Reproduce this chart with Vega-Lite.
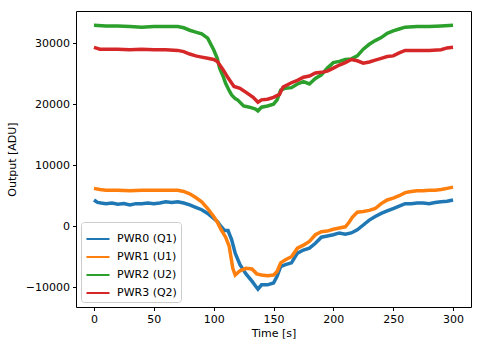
{
  "$schema": "https://vega.github.io/schema/vega-lite/v6.json",
  "width": 395,
  "height": 296,
  "autosize": {"type": "none"},
  "padding": {"left": 76, "top": 11, "right": 11, "bottom": 40},
  "background": "white",
  "config": {
    "font": "DejaVu Sans",
    "view": {"stroke": "#000", "strokeWidth": 1},
    "axis": {"grid": false, "domain": false, "tickColor": "#000", "tickSize": 3.5, "labelColor": "#000", "labelFontSize": 11, "titleFontSize": 11, "titleFontWeight": "normal", "titleColor": "#000", "labelFont": "DejaVu Sans", "titleFont": "DejaVu Sans", "labelPadding": 3}
  },
  "datasets": {
    "d": [
      {"s":"PWR0 (Q1)","t":0,"v":4300},{"s":"PWR0 (Q1)","t":3,"v":3900},{"s":"PWR0 (Q1)","t":6,"v":3800},{"s":"PWR0 (Q1)","t":10,"v":3700},{"s":"PWR0 (Q1)","t":15,"v":3800},{"s":"PWR0 (Q1)","t":20,"v":3600},{"s":"PWR0 (Q1)","t":25,"v":3700},{"s":"PWR0 (Q1)","t":30,"v":3500},{"s":"PWR0 (Q1)","t":35,"v":3700},{"s":"PWR0 (Q1)","t":40,"v":3700},{"s":"PWR0 (Q1)","t":45,"v":3800},{"s":"PWR0 (Q1)","t":50,"v":3700},{"s":"PWR0 (Q1)","t":55,"v":3800},{"s":"PWR0 (Q1)","t":60,"v":4000},{"s":"PWR0 (Q1)","t":65,"v":3900},{"s":"PWR0 (Q1)","t":70,"v":4000},{"s":"PWR0 (Q1)","t":75,"v":3800},{"s":"PWR0 (Q1)","t":80,"v":3500},{"s":"PWR0 (Q1)","t":85,"v":3100},{"s":"PWR0 (Q1)","t":90,"v":2700},{"s":"PWR0 (Q1)","t":95,"v":2100},{"s":"PWR0 (Q1)","t":100,"v":1300},{"s":"PWR0 (Q1)","t":103,"v":800},{"s":"PWR0 (Q1)","t":106,"v":0},{"s":"PWR0 (Q1)","t":109,"v":-700},{"s":"PWR0 (Q1)","t":112,"v":-700},{"s":"PWR0 (Q1)","t":115,"v":-2200},{"s":"PWR0 (Q1)","t":118,"v":-4400},{"s":"PWR0 (Q1)","t":122,"v":-6300},{"s":"PWR0 (Q1)","t":127,"v":-7800},{"s":"PWR0 (Q1)","t":132,"v":-9000},{"s":"PWR0 (Q1)","t":135,"v":-9800},{"s":"PWR0 (Q1)","t":137,"v":-10300},{"s":"PWR0 (Q1)","t":140,"v":-9600},{"s":"PWR0 (Q1)","t":145,"v":-9600},{"s":"PWR0 (Q1)","t":150,"v":-9300},{"s":"PWR0 (Q1)","t":153,"v":-8200},{"s":"PWR0 (Q1)","t":156,"v":-6600},{"s":"PWR0 (Q1)","t":160,"v":-6300},{"s":"PWR0 (Q1)","t":165,"v":-6000},{"s":"PWR0 (Q1)","t":170,"v":-4400},{"s":"PWR0 (Q1)","t":175,"v":-3900},{"s":"PWR0 (Q1)","t":180,"v":-3600},{"s":"PWR0 (Q1)","t":185,"v":-2800},{"s":"PWR0 (Q1)","t":190,"v":-1800},{"s":"PWR0 (Q1)","t":195,"v":-1600},{"s":"PWR0 (Q1)","t":200,"v":-1400},{"s":"PWR0 (Q1)","t":205,"v":-1100},{"s":"PWR0 (Q1)","t":210,"v":-1300},{"s":"PWR0 (Q1)","t":215,"v":-1100},{"s":"PWR0 (Q1)","t":220,"v":-600},{"s":"PWR0 (Q1)","t":225,"v":200},{"s":"PWR0 (Q1)","t":230,"v":1000},{"s":"PWR0 (Q1)","t":235,"v":1600},{"s":"PWR0 (Q1)","t":240,"v":2100},{"s":"PWR0 (Q1)","t":245,"v":2500},{"s":"PWR0 (Q1)","t":250,"v":2900},{"s":"PWR0 (Q1)","t":255,"v":3300},{"s":"PWR0 (Q1)","t":260,"v":3700},{"s":"PWR0 (Q1)","t":265,"v":3700},{"s":"PWR0 (Q1)","t":270,"v":3800},{"s":"PWR0 (Q1)","t":275,"v":3800},{"s":"PWR0 (Q1)","t":280,"v":3700},{"s":"PWR0 (Q1)","t":285,"v":3900},{"s":"PWR0 (Q1)","t":290,"v":4000},{"s":"PWR0 (Q1)","t":295,"v":4100},{"s":"PWR0 (Q1)","t":300,"v":4300},

      {"s":"PWR1 (U1)","t":0,"v":6200},{"s":"PWR1 (U1)","t":5,"v":6000},{"s":"PWR1 (U1)","t":10,"v":5900},{"s":"PWR1 (U1)","t":20,"v":5900},{"s":"PWR1 (U1)","t":30,"v":5800},{"s":"PWR1 (U1)","t":40,"v":5900},{"s":"PWR1 (U1)","t":50,"v":5900},{"s":"PWR1 (U1)","t":60,"v":5900},{"s":"PWR1 (U1)","t":70,"v":5900},{"s":"PWR1 (U1)","t":75,"v":5700},{"s":"PWR1 (U1)","t":80,"v":5300},{"s":"PWR1 (U1)","t":85,"v":4700},{"s":"PWR1 (U1)","t":90,"v":4000},{"s":"PWR1 (U1)","t":95,"v":2900},{"s":"PWR1 (U1)","t":100,"v":1600},{"s":"PWR1 (U1)","t":103,"v":700},{"s":"PWR1 (U1)","t":106,"v":-500},{"s":"PWR1 (U1)","t":110,"v":-1800},{"s":"PWR1 (U1)","t":113,"v":-3300},{"s":"PWR1 (U1)","t":116,"v":-6900},{"s":"PWR1 (U1)","t":118,"v":-8000},{"s":"PWR1 (U1)","t":122,"v":-7300},{"s":"PWR1 (U1)","t":127,"v":-6900},{"s":"PWR1 (U1)","t":132,"v":-7000},{"s":"PWR1 (U1)","t":136,"v":-7800},{"s":"PWR1 (U1)","t":140,"v":-8000},{"s":"PWR1 (U1)","t":145,"v":-8100},{"s":"PWR1 (U1)","t":150,"v":-8000},{"s":"PWR1 (U1)","t":153,"v":-7400},{"s":"PWR1 (U1)","t":156,"v":-6000},{"s":"PWR1 (U1)","t":160,"v":-5500},{"s":"PWR1 (U1)","t":165,"v":-5000},{"s":"PWR1 (U1)","t":170,"v":-3600},{"s":"PWR1 (U1)","t":175,"v":-3100},{"s":"PWR1 (U1)","t":180,"v":-2500},{"s":"PWR1 (U1)","t":185,"v":-1400},{"s":"PWR1 (U1)","t":190,"v":-900},{"s":"PWR1 (U1)","t":195,"v":-800},{"s":"PWR1 (U1)","t":200,"v":-500},{"s":"PWR1 (U1)","t":205,"v":-300},{"s":"PWR1 (U1)","t":210,"v":-100},{"s":"PWR1 (U1)","t":213,"v":600},{"s":"PWR1 (U1)","t":216,"v":1500},{"s":"PWR1 (U1)","t":220,"v":2300},{"s":"PWR1 (U1)","t":225,"v":2400},{"s":"PWR1 (U1)","t":230,"v":2600},{"s":"PWR1 (U1)","t":235,"v":2900},{"s":"PWR1 (U1)","t":240,"v":3700},{"s":"PWR1 (U1)","t":245,"v":4300},{"s":"PWR1 (U1)","t":250,"v":4600},{"s":"PWR1 (U1)","t":255,"v":5000},{"s":"PWR1 (U1)","t":260,"v":5500},{"s":"PWR1 (U1)","t":265,"v":5700},{"s":"PWR1 (U1)","t":270,"v":5800},{"s":"PWR1 (U1)","t":275,"v":5800},{"s":"PWR1 (U1)","t":280,"v":5900},{"s":"PWR1 (U1)","t":285,"v":5900},{"s":"PWR1 (U1)","t":290,"v":6000},{"s":"PWR1 (U1)","t":295,"v":6200},{"s":"PWR1 (U1)","t":300,"v":6400},

      {"s":"PWR2 (U2)","t":0,"v":32900},{"s":"PWR2 (U2)","t":10,"v":32800},{"s":"PWR2 (U2)","t":20,"v":32800},{"s":"PWR2 (U2)","t":30,"v":32700},{"s":"PWR2 (U2)","t":40,"v":32600},{"s":"PWR2 (U2)","t":50,"v":32700},{"s":"PWR2 (U2)","t":60,"v":32700},{"s":"PWR2 (U2)","t":70,"v":32700},{"s":"PWR2 (U2)","t":75,"v":32500},{"s":"PWR2 (U2)","t":80,"v":32100},{"s":"PWR2 (U2)","t":85,"v":31800},{"s":"PWR2 (U2)","t":90,"v":31500},{"s":"PWR2 (U2)","t":95,"v":30800},{"s":"PWR2 (U2)","t":100,"v":28900},{"s":"PWR2 (U2)","t":103,"v":27500},{"s":"PWR2 (U2)","t":105,"v":25900},{"s":"PWR2 (U2)","t":108,"v":24500},{"s":"PWR2 (U2)","t":110,"v":23400},{"s":"PWR2 (U2)","t":113,"v":22200},{"s":"PWR2 (U2)","t":115,"v":21500},{"s":"PWR2 (U2)","t":118,"v":20900},{"s":"PWR2 (U2)","t":120,"v":20700},{"s":"PWR2 (U2)","t":125,"v":19700},{"s":"PWR2 (U2)","t":130,"v":19500},{"s":"PWR2 (U2)","t":135,"v":19200},{"s":"PWR2 (U2)","t":137,"v":18900},{"s":"PWR2 (U2)","t":140,"v":19500},{"s":"PWR2 (U2)","t":145,"v":19700},{"s":"PWR2 (U2)","t":150,"v":20000},{"s":"PWR2 (U2)","t":153,"v":20700},{"s":"PWR2 (U2)","t":156,"v":22300},{"s":"PWR2 (U2)","t":160,"v":22600},{"s":"PWR2 (U2)","t":165,"v":22700},{"s":"PWR2 (U2)","t":170,"v":23300},{"s":"PWR2 (U2)","t":175,"v":23700},{"s":"PWR2 (U2)","t":180,"v":23300},{"s":"PWR2 (U2)","t":185,"v":24200},{"s":"PWR2 (U2)","t":190,"v":24800},{"s":"PWR2 (U2)","t":195,"v":25900},{"s":"PWR2 (U2)","t":200,"v":26800},{"s":"PWR2 (U2)","t":205,"v":27000},{"s":"PWR2 (U2)","t":210,"v":27300},{"s":"PWR2 (U2)","t":215,"v":27400},{"s":"PWR2 (U2)","t":220,"v":27900},{"s":"PWR2 (U2)","t":225,"v":29000},{"s":"PWR2 (U2)","t":230,"v":29800},{"s":"PWR2 (U2)","t":235,"v":30400},{"s":"PWR2 (U2)","t":240,"v":30900},{"s":"PWR2 (U2)","t":245,"v":31600},{"s":"PWR2 (U2)","t":250,"v":32000},{"s":"PWR2 (U2)","t":255,"v":32300},{"s":"PWR2 (U2)","t":260,"v":32600},{"s":"PWR2 (U2)","t":270,"v":32700},{"s":"PWR2 (U2)","t":280,"v":32700},{"s":"PWR2 (U2)","t":290,"v":32800},{"s":"PWR2 (U2)","t":300,"v":32900},

      {"s":"PWR3 (Q2)","t":0,"v":29300},{"s":"PWR3 (Q2)","t":5,"v":29000},{"s":"PWR3 (Q2)","t":10,"v":29000},{"s":"PWR3 (Q2)","t":20,"v":29000},{"s":"PWR3 (Q2)","t":30,"v":28900},{"s":"PWR3 (Q2)","t":40,"v":29000},{"s":"PWR3 (Q2)","t":50,"v":28900},{"s":"PWR3 (Q2)","t":60,"v":28900},{"s":"PWR3 (Q2)","t":70,"v":28800},{"s":"PWR3 (Q2)","t":75,"v":28600},{"s":"PWR3 (Q2)","t":80,"v":28200},{"s":"PWR3 (Q2)","t":85,"v":27900},{"s":"PWR3 (Q2)","t":90,"v":27700},{"s":"PWR3 (Q2)","t":95,"v":27500},{"s":"PWR3 (Q2)","t":100,"v":27300},{"s":"PWR3 (Q2)","t":103,"v":27000},{"s":"PWR3 (Q2)","t":108,"v":25600},{"s":"PWR3 (Q2)","t":112,"v":24300},{"s":"PWR3 (Q2)","t":117,"v":22900},{"s":"PWR3 (Q2)","t":122,"v":22600},{"s":"PWR3 (Q2)","t":128,"v":21800},{"s":"PWR3 (Q2)","t":133,"v":21100},{"s":"PWR3 (Q2)","t":137,"v":20300},{"s":"PWR3 (Q2)","t":140,"v":20700},{"s":"PWR3 (Q2)","t":145,"v":20800},{"s":"PWR3 (Q2)","t":150,"v":21100},{"s":"PWR3 (Q2)","t":155,"v":21600},{"s":"PWR3 (Q2)","t":158,"v":22800},{"s":"PWR3 (Q2)","t":165,"v":23500},{"s":"PWR3 (Q2)","t":170,"v":23900},{"s":"PWR3 (Q2)","t":175,"v":24400},{"s":"PWR3 (Q2)","t":180,"v":24600},{"s":"PWR3 (Q2)","t":185,"v":25100},{"s":"PWR3 (Q2)","t":190,"v":25200},{"s":"PWR3 (Q2)","t":195,"v":25400},{"s":"PWR3 (Q2)","t":200,"v":25900},{"s":"PWR3 (Q2)","t":205,"v":26400},{"s":"PWR3 (Q2)","t":210,"v":26800},{"s":"PWR3 (Q2)","t":215,"v":27300},{"s":"PWR3 (Q2)","t":220,"v":27100},{"s":"PWR3 (Q2)","t":225,"v":26700},{"s":"PWR3 (Q2)","t":230,"v":26900},{"s":"PWR3 (Q2)","t":235,"v":27200},{"s":"PWR3 (Q2)","t":240,"v":27500},{"s":"PWR3 (Q2)","t":245,"v":27800},{"s":"PWR3 (Q2)","t":250,"v":27900},{"s":"PWR3 (Q2)","t":255,"v":28400},{"s":"PWR3 (Q2)","t":260,"v":28800},{"s":"PWR3 (Q2)","t":270,"v":28800},{"s":"PWR3 (Q2)","t":280,"v":28800},{"s":"PWR3 (Q2)","t":290,"v":28900},{"s":"PWR3 (Q2)","t":295,"v":29200},{"s":"PWR3 (Q2)","t":300,"v":29300}
    ]
  },
  "data": {"name": "d"},
  "mark": {"type": "line", "strokeWidth": 3.5, "clip": true},
  "encoding": {
    "x": {"field": "t", "type": "quantitative", "title": "Time [s]",
      "scale": {"domain": [-15, 315], "nice": false, "zero": false},
      "axis": {"values": [0, 50, 100, 150, 200, 250, 300], "titlePadding": 3}},
    "y": {"field": "v", "type": "quantitative", "title": "Output [ADU]",
      "scale": {"domain": [-13230, 35250], "nice": false, "zero": false},
      "axis": {"values": [-10000, 0, 10000, 20000, 30000], "format": "d", "titlePadding": 8}},
    "color": {"field": "s", "type": "nominal", "title": null,
      "scale": {"domain": ["PWR0 (Q1)", "PWR1 (U1)", "PWR2 (U2)", "PWR3 (Q2)"], "range": ["#1f77b4", "#ff7f0e", "#2ca02c", "#d62728"]},
      "legend": {"orient": "bottom-left", "offset": 5, "symbolType": "stroke", "symbolSize": 530, "symbolStrokeWidth": 2, "labelFontSize": 11, "labelColor": "#000", "labelFont": "DejaVu Sans", "labelOffset": 6, "fillColor": "white", "strokeColor": "#cccccc", "cornerRadius": 3, "padding": 4, "rowPadding": -4}
    }
  }
}
